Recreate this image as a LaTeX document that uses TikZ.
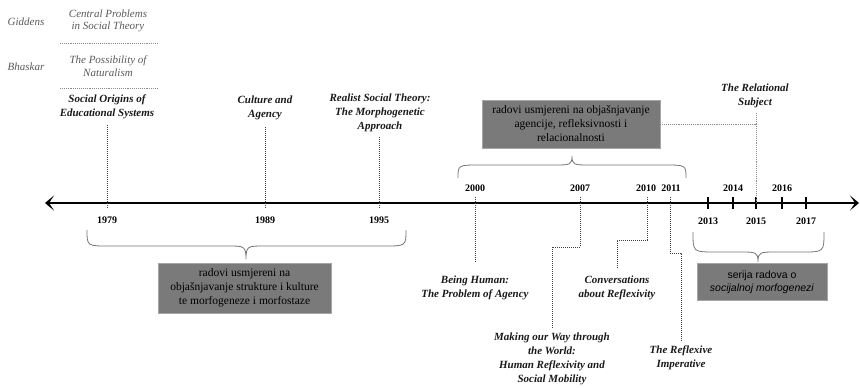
\documentclass[tikz,border=0pt]{standalone}
\usepackage{fontspec}
\setmainfont{Liberation Serif}
\newfontfamily\tnr{Liberation Serif}
\newfontfamily\boxsans{Liberation Sans}
\usetikzlibrary{arrows.meta}
\tikzset{
  ttl/.style={font=\tnr\fontsize{11}{14}\selectfont\bfseries\itshape, align=center, inner sep=0pt, text=black!90},
  gry/.style={font=\tnr\fontsize{11}{12.5}\selectfont\itshape, align=center, inner sep=0pt, text=black!65},
  yr/.style={font=\tnr\fontsize{10}{11}\selectfont\bfseries, inner sep=0pt},
  gbox/.style={draw=black!35, line width=0.8pt, fill=black!52, align=center, inner sep=2pt,
    font=\tnr\fontsize{11.5}{14}\selectfont, text=black},
  dot/.style={densely dotted, line width=1pt, black!75},
  ldot/.style={densely dotted, line width=0.9pt, black!45},
  brc/.style={draw=black!55, line width=0.8pt},
  tick/.style={line width=1.2pt},
  axis/.style={line width=2.3pt, {Stealth[length=9pt,width=15pt,inset=5pt]}-{Stealth[length=9pt,width=15pt,inset=5pt]}}
}
\newcommand\drawcurly[6]{%
  \draw[brc] (#1,#4) .. controls (#1,#5) and (#1,#5) .. (#1+22,#5) -- (#3-18,#5)
    .. controls (#3-2,#5) and (#3,#5) .. (#3,#6)
    .. controls (#3,#5) and (#3+2,#5) .. (#3+18,#5) -- (#2-22,#5)
    .. controls (#2,#5) and (#2,#5) .. (#2,#4);}
\begin{document}
\begin{tikzpicture}[x=1pt,y=-1pt]
\useasboundingbox (0,0) rectangle (860,388);

% top-left list
\node[gry] (giddens) at (26,22) {Giddens};
\node[gry] (cpst) at (108,21) {Central Problems\\in Social Theory};
\node[gry] (bhaskar) at (26,67) {Bhaskar};
\node[gry] (pon) at (108,66) {The Possibility of\\Naturalism};
\coordinate (s1a) at (60,43); \coordinate (s1b) at (157,43);
\coordinate (s2a) at (60,88); \coordinate (s2b) at (157,88);
\draw[ldot] (s1a) -- (s1b);
\draw[ldot] (s2a) -- (s2b);

% axis
\coordinate (AL) at (45,203);
\coordinate (AR) at (859,203);
\draw[axis] (AL) -- (AR);

% year coordinates
\foreach \n/\x in {1979/107,1989/265,1995/379,2000/475,2007/580,2010/647,2011/670,2013/708,2014/733,2015/756,2016/782,2017/806}
  \coordinate (y\n) at (\x,203);

% year labels
\node[yr] (l1979) at (107,220) {1979};
\node[yr] (l1989) at (265,220) {1989};
\node[yr] (l1995) at (379,220) {1995};
\node[yr] (l2013) at (708,221) {2013};
\node[yr] (l2015) at (756,221) {2015};
\node[yr] (l2017) at (806,221) {2017};
\node[yr] (l2000) at (475,188) {2000};
\node[yr] (l2007) at (580,188) {2007};
\node[yr] (l2010) at (646,188) {2010};
\node[yr] (l2011) at (671,188) {2011};
\node[yr] (l2014) at (733,188) {2014};
\node[yr] (l2016) at (782,188) {2016};

% solid ticks
\foreach \n in {2013,2014,2015,2016,2017}
  \draw[tick] ([yshift=6pt]y\n) -- ([yshift=-6pt]y\n);

% titles above
\node[ttl] (soe) at (107,107) {Social Origins of\\Educational Systems};
\node[ttl] (caa) at (265,108) {Culture and\\Agency};
\node[ttl] (rst) at (380,113) {Realist Social Theory:\\The Morphogenetic\\Approach};
\node[ttl] (trs) at (755,96) {The Relational\\Subject};

\coordinate (c1979) at (107,125);
\coordinate (c1989) at (265,127);
\coordinate (c1995) at (379,137);
\draw[dot] (c1979) -- ([yshift=-6pt]y1979);
\draw[dot] (c1989) -- ([yshift=-6pt]y1989);
\draw[dot] (c1995) -- ([yshift=-6pt]y1995);

% top box
\node[gbox, minimum width=178pt, minimum height=48pt] (tbox) at (571,124)
  {radovi usmjereni na objašnjavanje\\agencije, refleksivnosti i\\relacionalnosti};
\coordinate (t2015) at (756,124);
\coordinate (ts2015) at (756,113);
\draw[ldot] (tbox.east) -- (t2015);
\draw[ldot] (ts2015) -- (y2015);

% braces
\drawcurly{458}{686}{572}{178}{165}{156}
\drawcurly{87}{406}{246}{230}{246}{259}
\drawcurly{693}{824}{758}{232}{252}{262}

% bottom boxes
\node[gbox, minimum width=173pt, minimum height=50pt] (lbox) at (244.5,288)
  {radovi usmjereni na\\objašnjavanje strukture i kulture\\te morfogeneze i morfostaze};
\node[gbox, minimum width=130pt, minimum height=37pt, font=\boxsans\fontsize{10.5}{13}\selectfont] (rbox) at (762,282)
  {serija radova o\\\textit{socijalnoj morfogenezi}};

% titles below
\node[ttl] (bh) at (475,288) {Being Human:\\The Problem of Agency};
\node[ttl] (car) at (617,288) {Conversations\\about Reflexivity};
\node[ttl] (mow) at (552,359) {Making our Way through\\the World:\\Human Reflexivity and\\Social Mobility};
\node[ttl] (tri) at (681,358) {The Reflexive\\Imperative};

% connectors below
\coordinate (b2000) at (475,262);
\draw[dot] ([yshift=6pt]y2000) -- (b2000);

\coordinate (k2007a) at (580,247);
\coordinate (k2007b) at (552,247);
\coordinate (k2007c) at (552,328);
\draw[dot] ([yshift=6pt]y2007) -- (k2007a) -- (k2007b) -- (k2007c);

\coordinate (k2010a) at (647,240);
\coordinate (k2010b) at (617,240);
\coordinate (k2010c) at (617,268);
\draw[dot] ([yshift=6pt]y2010) -- (k2010a) -- (k2010b) -- (k2010c);

\coordinate (k2011a) at (670,253);
\coordinate (k2011b) at (681,253);
\coordinate (k2011c) at (681,341);
\draw[dot] ([yshift=6pt]y2011) -- (k2011a) -- (k2011b) -- (k2011c);
\end{tikzpicture}
\end{document}
